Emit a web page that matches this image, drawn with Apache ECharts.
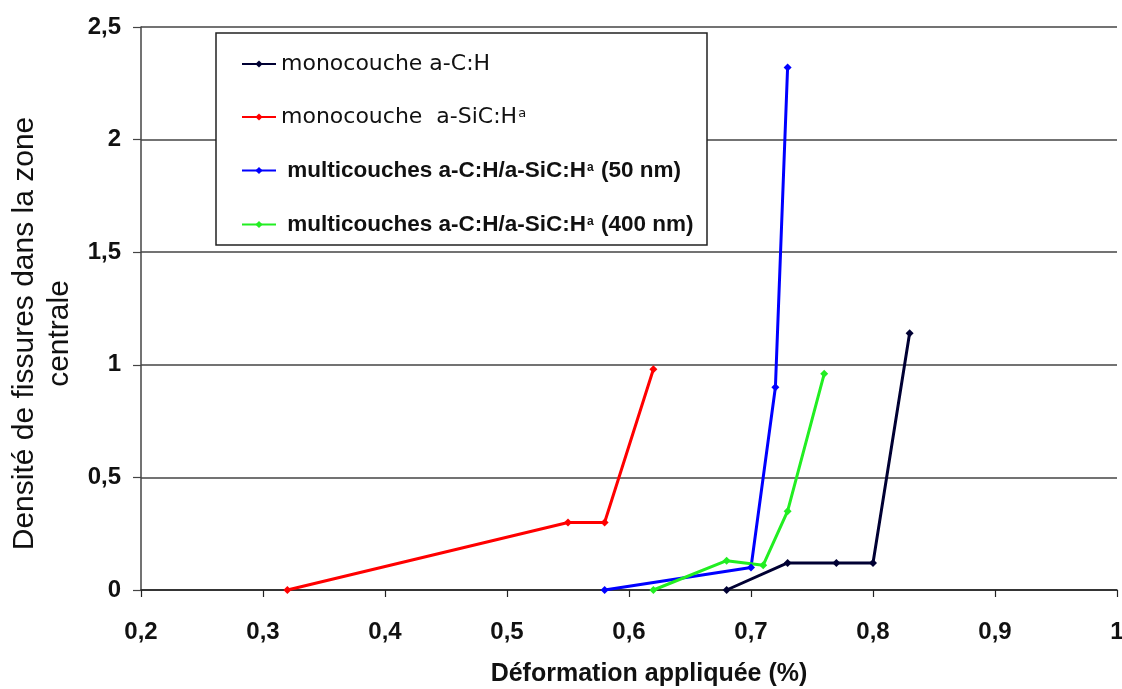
<!DOCTYPE html>
<html><head><meta charset="utf-8">
<script src="https://cdn.jsdelivr.net/npm/echarts@6/dist/echarts.min.js"></script>
<style>html,body{margin:0;padding:0;background:#fff}#c{width:1122px;height:689px}</style>
</head><body><div id="c"></div>
<script>
// ---- data ----
const seriesNames = ['monocouche a-C:H', 'monocouche  a-SiC:H^a', 'multicouches a-C:H/a-SiC:H^a (50 nm)', 'multicouches a-C:H/a-SiC:H^a (400 nm)'];
const seriesColors = ['#000033', '#ff0000', '#0000ff', '#22ee22'];
const monoCH_x = [0.68, 0.73, 0.77, 0.80, 0.83];
const monoCH_y = [0, 0.12, 0.12, 0.12, 1.14];
const monoSiCH_x = [0.32, 0.55, 0.58, 0.62];
const monoSiCH_y = [0, 0.30, 0.30, 0.98];
const multi50_x = [0.58, 0.70, 0.72, 0.73];
const multi50_y = [0, 0.10, 0.90, 2.32];
const multi400_x = [0.62, 0.68, 0.71, 0.73, 0.76];
const multi400_y = [0, 0.13, 0.11, 0.35, 0.96];
const xMin = 0.2, xMax = 1, xStep = 0.1;
const yMin = 0, yMax = 2.5, yStep = 0.5;
const xTitle = 'Déformation appliquée (%)';
const yTitle = 'Densité de fissures dans la zone\ncentrale';

const xs = [monoCH_x, monoSiCH_x, multi50_x, multi400_x];
const ys = [monoCH_y, monoSiCH_y, multi50_y, multi400_y];
const zip = (a, b) => a.map((v, i) => [v, b[i]]);
const fmt = v => String(+(+v).toFixed(1)).replace('.', ',');

const chart = echarts.init(document.getElementById('c'), null, {renderer: 'canvas'});
chart.setOption({
  animation: false,
  backgroundColor: '#fff',
  grid: {left: 141, right: 5, top: 27, bottom: 99, containLabel: false, outerBoundsMode: 'none'},
  xAxis: {
    type: 'value', min: xMin, max: xMax, interval: xStep,
    axisLine: {show: true, lineStyle: {color: '#222', width: 1.5}},
    axisTick: {show: true, inside: false, length: 7, lineStyle: {color: '#222', width: 1.2}},
    splitLine: {show: false},
    axisLabel: {margin: 30, fontSize: 24, fontWeight: 'bold', fontFamily: 'Liberation Sans, Arial, sans-serif', color: '#111', formatter: fmt},
    name: xTitle, nameLocation: 'middle', nameGap: 72,
    nameTextStyle: {fontSize: 25, fontWeight: 'bold', fontFamily: 'Liberation Sans, Arial, sans-serif', color: '#111', padding: [0, 0, 0, 40]}
  },
  yAxis: {
    type: 'value', min: yMin, max: yMax, interval: yStep,
    axisLine: {show: true, lineStyle: {color: '#444', width: 1.5}},
    axisTick: {show: true, inside: false, length: 8, lineStyle: {color: '#444', width: 1.2}},
    splitLine: {show: true, lineStyle: {color: '#444', width: 1.5}},
    axisLabel: {margin: 20, fontSize: 24, fontWeight: 'bold', fontFamily: 'Liberation Sans, Arial, sans-serif', color: '#111', formatter: fmt},
    name: yTitle, nameLocation: 'middle', nameRotate: 90, nameGap: 64,
    nameTextStyle: {fontSize: 30, lineHeight: 35, fontFamily: 'Liberation Sans, Arial, sans-serif', color: '#111', align: 'center', padding: [0, 50, 0, 0]}
  },
  graphic: [{
    type: 'rect', z: 3, shape: {x: 216, y: 33, width: 491, height: 212},
    style: {fill: '#fff', stroke: '#222', lineWidth: 1.5}
  }],
  legend: {
    z: 5, orient: 'vertical', left: 241, top: 53, padding: 0,
    itemGap: 31, itemWidth: 34, itemHeight: 9,
    data: seriesNames,
    formatter: name => {
      const st = name.startsWith('multi') ? 'b' : 'n';
      const pre = st === 'b' ? ' ' : '';
      const parts = name.split('^a');
      let s = '{' + st + '|' + pre + parts[0] + '}';
      if (parts.length > 1) {
        s += '{' + st + 's|a}';
        if (parts[1]) s += '{' + st + '|' + parts[1] + '}';
      }
      return s;
    },
    textStyle: {
      color: '#111',
      rich: {
        n: {fontSize: 22, fontFamily: 'DejaVu Sans, sans-serif', lineHeight: 22, color: '#111'},
        ns: {fontSize: 13, fontFamily: 'DejaVu Sans, sans-serif', lineHeight: 13, verticalAlign: 'top', padding: [1, 0, 0, 1], color: '#111'},
        b: {fontSize: 22.5, fontWeight: 'bold', fontFamily: 'Liberation Sans, Arial, sans-serif', lineHeight: 22, color: '#111'},
        bs: {fontSize: 12, fontWeight: 'bold', fontFamily: 'Liberation Sans, Arial, sans-serif', lineHeight: 12, verticalAlign: 'top', padding: [2, 1, 0, 1], color: '#111'}
      }
    }
  },
  series: seriesNames.map((n, i) => ({
    name: n, type: 'line', data: zip(xs[i], ys[i]),
    symbol: 'diamond', symbolSize: 8, showSymbol: true,
    lineStyle: {width: 3, color: seriesColors[i]},
    itemStyle: {color: seriesColors[i]},
    z: 2
  }))
});
</script></body></html>
